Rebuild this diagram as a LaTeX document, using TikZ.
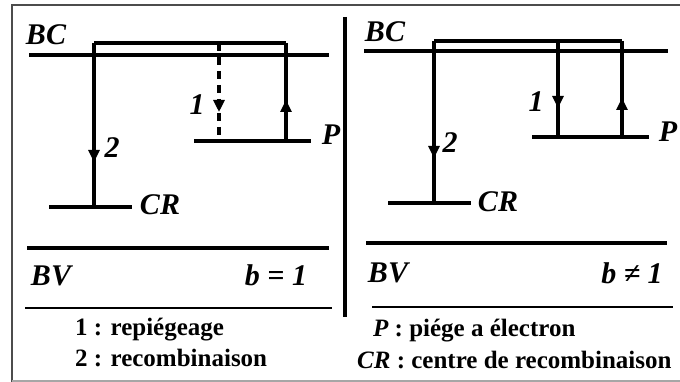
\documentclass[tikz,border=0pt]{standalone}
\usepackage{fontspec}
\setmainfont{Liberation Serif}
\usetikzlibrary{arrows.meta,decorations.markings}
\begin{document}
\begin{tikzpicture}[x=1pt,y=-1pt,
  lvl/.style={line width=3.4pt},
  thick lvl/.style={line width=3.8pt},
  thinline/.style={line width=2.2pt},
  lab/.style={font=\fontsize{30}{30}\selectfont\bfseries\itshape, inner sep=0pt},
  leg/.style={font=\fontsize{25}{25}\selectfont\bfseries, inner sep=0pt, anchor=west},
  midarrow/.style={postaction={decorate}, decoration={markings, mark=at position #1 with {\arrow{Triangle[width=11pt,length=12pt]}}}}]
\useasboundingbox (0,0) rectangle (680,382);
\clip (0,0) rectangle (680,382);
% frame
\draw[line width=2pt, black!70] (700,5) -- (12,5) -- (12,390);
\draw[line width=1.5pt, black!35] (12,381) -- (700,381);
% ---------------- left panel ----------------
\coordinate (bcL1) at (29,55); \coordinate (bcL2) at (329,55);
\coordinate (tL1) at (94,43); \coordinate (tL2) at (286,43); \coordinate (tLd) at (219,43);
\coordinate (crL) at (94,207); \coordinate (crL1) at (49,207); \coordinate (crL2) at (132,207);
\coordinate (pL1) at (194,141); \coordinate (pL2) at (311,141);
\coordinate (pLa) at (219,141); \coordinate (pLb) at (286,141);
\coordinate (bvL1) at (27,248); \coordinate (bvL2) at (329,248);
\coordinate (sepL1) at (25,308); \coordinate (sepL2) at (332,308);
\draw[lvl] (bcL1) -- (bcL2);
\draw[lvl] (tL1) -- (tL2);
\draw[lvl, midarrow=119pt] (tL1) -- (crL);
\draw[lvl, dash pattern=on 8pt off 6pt, midarrow=69pt] (tLd) -- (pLa);
\draw[lvl, midarrow=41pt] (pLb) -- (tL2);
\draw[lvl] (pL1) -- (pL2);
\draw[lvl] (crL1) -- (crL2);
\draw[thick lvl] (bvL1) -- (bvL2);
\draw[thinline] (sepL1) -- (sepL2);
\node[lab] (BCl) at (46,35) {BC};
\node[lab] (oneL) at (197,105) {1};
\node[lab] (twoL) at (112,148) {2};
\node[lab] (PL) at (331,135) {P};
\node[lab] (CRl) at (160,205) {CR};
\node[lab] (BVl) at (51,276) {BV};
\node[lab] (bL) at (276,275) {b = 1};
\node[leg] (leg1) at (75,330) {1 : repiégeage};
\node[leg] (leg2) at (75,358) {2 : recombinaison};
% divider
\coordinate (d1) at (345,17); \coordinate (d2) at (345,317);
\draw[lvl] (d1) -- (d2);
% ---------------- right panel ----------------
\coordinate (bcR1) at (364,51); \coordinate (bcR2) at (668,51);
\coordinate (tR1) at (434,41); \coordinate (tR2) at (622,41); \coordinate (tRm) at (558,41);
\coordinate (crR) at (434,203); \coordinate (crR1) at (388,203); \coordinate (crR2) at (471,203);
\coordinate (pR1) at (532,137); \coordinate (pR2) at (649,137);
\coordinate (pRa) at (558,137); \coordinate (pRb) at (622,137);
\coordinate (bvR1) at (366,243); \coordinate (bvR2) at (667,243);
\coordinate (sepR1) at (372,307); \coordinate (sepR2) at (673,307);
\draw[lvl] (bcR1) -- (bcR2);
\draw[lvl] (tR1) -- (tR2);
\draw[lvl, midarrow=117pt] (tR1) -- (crR);
\draw[lvl, midarrow=67pt] (tRm) -- (pRa);
\draw[lvl, midarrow=39pt] (pRb) -- (tR2);
\draw[lvl] (pR1) -- (pR2);
\draw[lvl] (crR1) -- (crR2);
\draw[thick lvl] (bvR1) -- (bvR2);
\draw[thinline] (sepR1) -- (sepR2);
\node[lab] (BCr) at (385,32) {BC};
\node[lab] (oneR) at (536,102) {1};
\node[lab] (twoR) at (450,143) {2};
\node[lab] (PR) at (668,132) {P};
\node[lab] (CRr) at (498,202) {CR};
\node[lab] (BVr) at (388,273) {BV};
\node[lab] (bR) at (632,273) {b ≠ 1};
\node[leg] (leg3) at (373,331) {{\itshape P} : piége a électron};
\node[leg] (leg4) at (357,360) {{\itshape CR} : centre de recombinaison};
\end{tikzpicture}
\end{document}
